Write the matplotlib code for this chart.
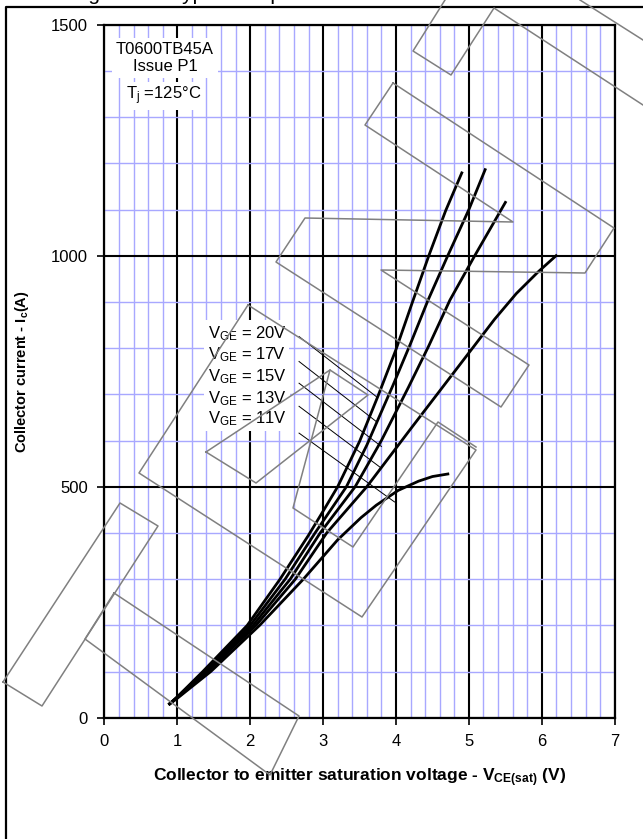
import matplotlib
matplotlib.use('Agg')
import matplotlib.pyplot as plt
from matplotlib.lines import Line2D
from matplotlib.transforms import Affine2D

plt.rcParams['font.family'] = ['Liberation Sans', 'DejaVu Sans']
plt.rcParams['mathtext.fontset'] = 'custom'
plt.rcParams['mathtext.rm'] = 'Liberation Sans'
plt.rcParams['mathtext.it'] = 'Liberation Sans:italic'
plt.rcParams['mathtext.bf'] = 'Liberation Sans:bold'

# Output characteristics: V_CE(sat) (V) vs I_c (A)
vge_labels = ['20V', '17V', '15V', '13V', '11V']

v20 = [0.88, 1.00, 1.35, 1.96, 2.41, 2.80, 3.00, 3.20, 3.50, 3.75, 4.00, 4.22, 4.45, 4.68, 4.91]
i20 = [28, 45, 100, 200, 300, 395, 447, 500, 598, 695, 797, 897, 1000, 1097, 1182]

v17 = [0.88, 1.00, 1.37, 2.00, 2.48, 2.89, 3.32, 3.60, 3.96, 4.20, 4.44, 4.71, 5.00, 5.23]
i17 = [28, 45, 100, 200, 300, 400, 500, 590, 720, 810, 904, 1000, 1100, 1189]

v15 = [0.88, 1.00, 1.39, 2.04, 2.55, 2.96, 3.44, 3.80, 4.17, 4.45, 4.74, 5.08, 5.51]
i15 = [28, 44, 100, 200, 300, 400, 500, 600, 715, 805, 904, 1000, 1118]

v13 = [0.88, 1.00, 1.42, 2.08, 2.62, 3.05, 3.60, 4.20, 4.70, 5.05, 5.35, 5.65, 5.95, 6.21]
i13 = [28, 43, 100, 200, 300, 400, 500, 625, 728, 800, 862, 918, 965, 1002]

v11 = [0.88, 1.00, 1.46, 2.13, 2.73, 3.20, 3.52, 3.73, 4.03, 4.31, 4.50, 4.73]
i11 = [28, 42, 100, 200, 300, 385, 433, 460, 492, 512, 522, 528]

curves = [(v20, i20), (v17, i17), (v15, i15), (v13, i13), (v11, i11)]

# label text positions and the leader lines pointing at each curve
label_x = 1.42
label_y = [832, 785, 738, 691, 648]
leader_start = [(2.67, 825), (2.67, 771), (2.67, 724), (2.67, 674), (2.67, 616)]
leader_end = [(3.73, 695), (3.73, 641), (3.80, 587), (3.80, 540), (3.98, 467)]

# grey outline debris left over in the scanned page (pixel coords, y down)
debris = [
    [(3, 682), (120, 503), (158, 526), (42, 706), (3, 682)],
    [(114, 593), (299, 716), (270, 775), (85, 639), (114, 593)],
    [(248, 305), (139, 473), (362, 617), (476, 450), (248, 305)],
    [(206, 452), (256, 483), (368, 395), (330, 370), (206, 452)],
    [(330, 370), (293, 508), (353, 547), (438, 422), (476, 447)],
    [(393, 83), (365, 125), (513, 222), (305, 218), (276, 262), (501, 407),
     (529, 365), (381, 270), (585, 273), (614, 228), (393, 83)],
    [(445, 0), (413, 51), (451, 75), (494, 8), (643, 105)],
    [(580, 0), (643, 40)],
]

W, H = 643, 839
fig = plt.figure(figsize=(W / 100, H / 100), dpi=100)
ax = fig.add_axes([104.4 / W, 1 - 717.7 / H, 510.3 / W, 693 / H])

ax.set_xlim(0, 7)
ax.set_ylim(0, 1500)
ax.set_xticks(range(0, 8))
ax.set_yticks([0, 500, 1000, 1500])
ax.set_xticks([x / 5 for x in range(36)], minor=True)
ax.set_yticks(range(0, 1501, 100), minor=True)
ax.grid(which='minor', color='#a8a8ff', lw=1.0, zorder=0)
ax.grid(which='major', color='black', lw=1.5, zorder=1)
ax.set_axisbelow(True)
ax.tick_params(which='minor', length=0)
ax.tick_params(which='major', length=5, width=1.2, labelsize=12, pad=7)
for s in ax.spines.values():
    s.set_linewidth(1.6)

for v, i in curves:
    ax.plot(v, i, color='black', lw=2.0, solid_capstyle='butt',
            solid_joinstyle='round', zorder=4)

for k, lab in enumerate(vge_labels):
    ax.text(label_x, label_y[k], r'V$_{\mathrm{GE}}$ = ' + lab, fontsize=12,
            ha='left', va='center', zorder=5,
            bbox=dict(facecolor='white', edgecolor='none', pad=2.5))
    ax.plot([leader_start[k][0], leader_end[k][0]],
            [leader_start[k][1], leader_end[k][1]],
            color='black', lw=0.7, zorder=6)

ax.text(0.83, 1428, 'T0600TB45A\nIssue P1', fontsize=12, ha='center',
        va='center', linespacing=1.15, zorder=5,
        bbox=dict(facecolor='white', edgecolor='none', pad=3))
ax.text(0.82, 1346, r'T$_{\mathrm{j}}$ =125°C', fontsize=12, ha='center',
        va='center', zorder=5,
        bbox=dict(facecolor='white', edgecolor='none', pad=2))

ax.set_xlabel(r'Collector to emitter saturation voltage - V$_{\mathbf{CE(sat)}}$ (V)',
              fontsize=12.5, fontweight='bold', labelpad=12)
ax.set_ylabel(r'Collector current - I$_{\mathbf{c}}$(A)', fontsize=10.5,
              fontweight='bold', labelpad=14)

# page frame and clipped figure caption above it
px = Affine2D().scale(1 / W, -1 / H).translate(0, 1) + fig.transFigure
fig.add_artist(Line2D([5.5, 5.5, W], [H, 6.5, 6.5], color='black', lw=1.6,
                      transform=px))
fig.text(71 / W, 1 - 0.5 / H, 'Figure 4 – Typical output characteristics',
         fontsize=15, va='baseline', ha='left')

for path in debris:
    xs = [p[0] for p in path]
    ys = [p[1] for p in path]
    fig.add_artist(Line2D(xs, ys, color='#808080', lw=1.1, transform=px,
                          zorder=10))

fig.savefig('out.png', dpi=100)
